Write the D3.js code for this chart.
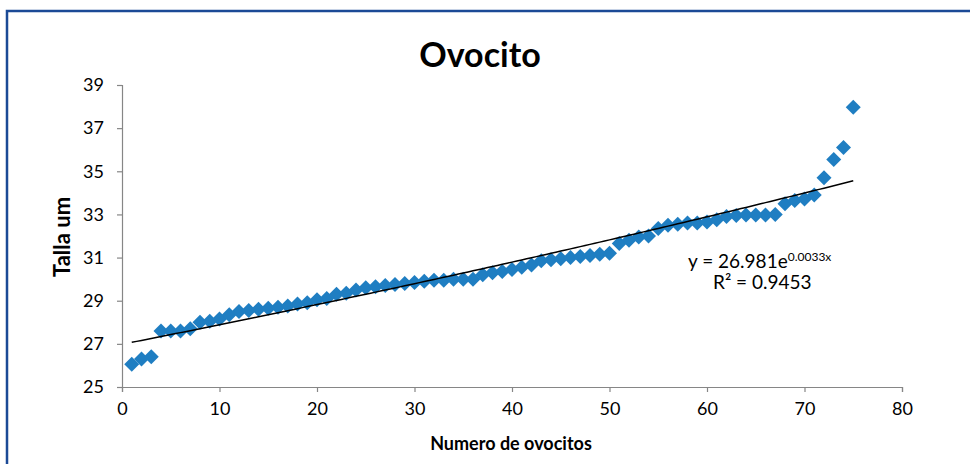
<!DOCTYPE html>
<html><head><meta charset="utf-8">
<script src="https://cdn.jsdelivr.net/npm/d3@7"></script>
<style>
html,body{margin:0;padding:0;background:#fff;}
svg{display:block;font-family:Lato,"Open Sans",sans-serif;}
</style></head><body>
<svg id="chart" width="970" height="464"></svg>
<script>
const xValues = d3.range(1, 76);
const tallaValues = [
 26.05,26.3,26.4,27.6,27.6,27.6,27.7,28.0,28.05,28.15,
 28.35,28.5,28.55,28.6,28.65,28.7,28.75,28.85,28.9,29.05,
 29.1,29.3,29.35,29.5,29.6,29.65,29.7,29.75,29.8,29.85,
 29.9,29.95,29.95,30.0,30.0,30.0,30.2,30.3,30.35,30.45,
 30.55,30.65,30.85,30.9,30.95,31.0,31.05,31.1,31.15,31.2,
 31.65,31.8,31.95,32.0,32.35,32.5,32.55,32.6,32.6,32.65,
 32.75,32.9,32.95,32.97,32.97,32.97,33.0,33.5,33.65,33.72,
 33.9,34.7,35.55,36.1,37.97];
const xTicks = [0,10,20,30,40,50,60,70,80];
const yTicks = [25,27,29,31,33,35,37,39];
const trendA = 26.981, trendB = 0.0033;
const titleText = "Ovocito";
const xLabel = "Numero de ovocitos";
const yLabel = "Talla um";

const svg = d3.select("#chart");
svg.append("rect").attr("x",7).attr("y",11).attr("width",1000).attr("height",500)
  .attr("fill","#fff").attr("stroke","#1B4A96").attr("stroke-width",2.5);

const x = d3.scaleLinear().domain([0,80]).range([122,902]);
const y = d3.scaleLinear().domain([25,39]).range([387,85]);

const axisColor = "#868686";
const gy = svg.append("g").attr("transform","translate(122,0)")
  .call(d3.axisLeft(y).tickValues(yTicks).tickSize(5).tickPadding(13));
const gx = svg.append("g").attr("transform","translate(0,387)")
  .call(d3.axisBottom(x).tickValues(xTicks).tickSize(5).tickPadding(10));
[gx,gy].forEach(g=>{
  g.select(".domain").attr("stroke",axisColor).attr("stroke-width",1.2);
  g.selectAll(".tick line").attr("stroke",axisColor).attr("stroke-width",1.2);
  g.selectAll(".tick text").attr("fill","#000").style("font-size","18px").style("font-family","Lato,sans-serif");
});

const pts = xValues.map((v,i)=>({x:v,y:tallaValues[i]}));
svg.append("g").selectAll("path").data(pts).join("path")
  .attr("d","M0,-7.5L7.5,0L0,7.5L-7.5,0Z")
  .attr("transform",d=>`translate(${x(d.x)},${y(d.y)})`)
  .attr("fill","#1F7EC2");

const trendX = d3.range(1, 75.01, 0.5);
const line = d3.line().x(d=>x(d)).y(d=>y(trendA*Math.exp(trendB*d)));
svg.append("path").datum(trendX).attr("d",line)
  .attr("fill","none").attr("stroke","#000").attr("stroke-width",1.5);

svg.append("text").attr("x",480).attr("y",67).attr("text-anchor","middle")
  .style("font-size","34px").style("font-weight","bold").text(titleText);
svg.append("text").attr("x",511).attr("y",450).attr("text-anchor","middle")
  .style("font-size","18px").style("font-weight","bold").text(xLabel);
svg.append("text").attr("transform","translate(70,237) rotate(-90)").attr("text-anchor","middle")
  .style("font-size","22px").style("font-weight","bold").text(yLabel);

const eq = svg.append("text").attr("x",688).attr("y",268).style("font-size","19px");
eq.append("tspan").text("y = 26.981e");
eq.append("tspan").attr("dy",-7).style("font-size","12px").text("0.0033x");
svg.append("text").attr("x",713).attr("y",289).style("font-size","19px").text("R² = 0.9453");
</script>
</body></html>
